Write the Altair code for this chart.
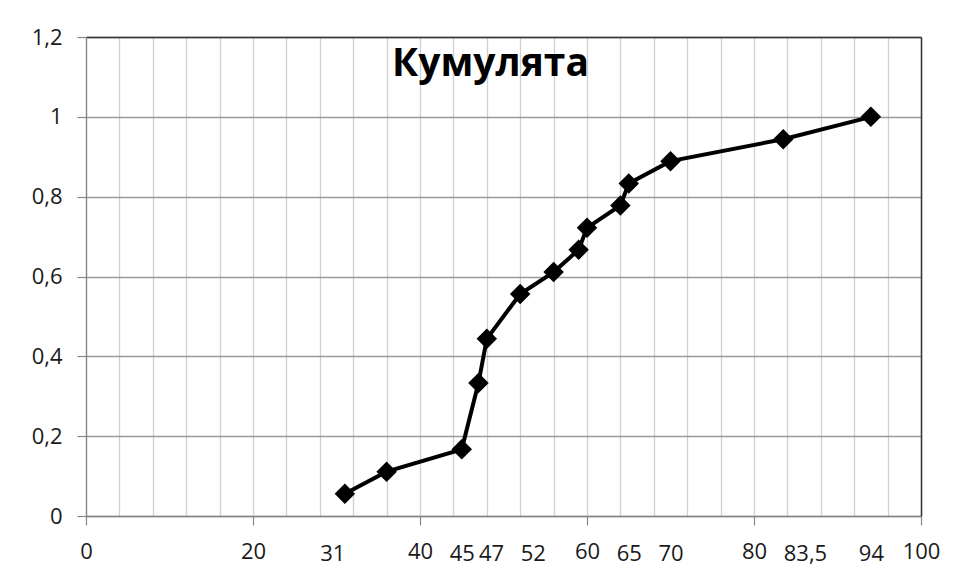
import altair as alt
import pandas as pd

# ---- data ----
values_x = [31, 36, 45, 47, 48, 52, 56, 59, 60, 64, 65, 70, 83.5, 94]
cum_freq = [0.056, 0.111, 0.167, 0.333, 0.444, 0.556, 0.611, 0.667,
            0.722, 0.778, 0.833, 0.889, 0.944, 1.0]
major_ticks = [0, 20, 40, 60, 80, 100]
extra_labels = [31, 45, 47, 52, 65, 70, 83.5, 94]
labels_left = [47, 52, 83.5]     # extra labels drawn to the right of their value
labels_right = [31]              # extra labels drawn to the left of their value
grid_step = 4
y_ticks = [0, 0.2, 0.4, 0.6, 0.8, 1.0, 1.2]
title_text = "Кумулята"

df = pd.DataFrame({"x": values_x, "y": cum_freq})

FONT = "Open Sans"
grid_vals = list(range(0, 101, grid_step))
x_axis_values = sorted(set(grid_vals) | set(major_ticks) | set(extra_labels))


def js(arr):
    return "[" + ",".join(str(v) for v in arr) + "]"


is_major = f"indexof({js(major_ticks)}, datum.value) >= 0"
x_label_expr = (f"indexof({js(major_ticks + extra_labels)}, datum.value) >= 0 ? "
                "replace(format(datum.value, '~g'), '.', ',') : ''")

x_axis = alt.Axis(
    values=x_axis_values,
    labelExpr=x_label_expr,
    labelOverlap=False, labelFlush=False, labelBound=False,
    labelFont=FONT, labelFontSize=22, labelColor="#1a1a1a",
    labelPadding={"condition": {"test": is_major, "value": 16}, "value": 18.5},
    labelAlign={"condition": [
        {"test": f"indexof({js(labels_left)}, datum.value) >= 0", "value": "left"},
        {"test": f"indexof({js(labels_right)}, datum.value) >= 0", "value": "right"},
    ], "value": "center"},
    tickSize=9, tickColor="#868686", tickWidth=1.2,
    tickOpacity={"condition": {"test": is_major, "value": 1}, "value": 0},
    grid=True, gridColor="#d0d0d0", gridWidth=1.3,
    gridOpacity={"condition": {"test": f"datum.value % {grid_step} === 0", "value": 1}, "value": 0},
    domainColor="#868686", domainWidth=1.3, title=None,
)
y_axis = alt.Axis(
    values=y_ticks,
    labelExpr="replace(format(datum.value, '.1~f'), '.', ',')",
    labelFont=FONT, labelFontSize=22, labelColor="#1a1a1a", labelPadding=15,
    tickSize=9, tickColor="#868686", tickWidth=1.2,
    grid=True, gridColor="#9a9a9a", gridWidth=1.3,
    domainColor="#868686", domainWidth=1.3, title=None,
)
top_axis = alt.Axis(orient="top", labels=False, ticks=False, grid=False,
                    domainColor="#333333", domainWidth=1.5, title=None)
right_axis = alt.Axis(orient="right", labels=False, ticks=False, grid=False,
                      domainColor="#333333", domainWidth=1.5, title=None)

xs = alt.Scale(domain=[0, 100], nice=False, zero=True)
ys = alt.Scale(domain=[0, 1.2], nice=False, zero=True)

line = alt.Chart(df).mark_line(color="black", strokeWidth=4).encode(
    x=alt.X("x:Q", scale=xs, axis=x_axis),
    y=alt.Y("y:Q", scale=ys, axis=y_axis),
)
points = alt.Chart(df).mark_point(
    shape="diamond", filled=True, size=420, color="black", opacity=1
).encode(
    x=alt.X("x:Q", scale=xs, axis=top_axis),
    y=alt.Y("y:Q", scale=ys, axis=right_axis),
)

chart = alt.layer(line, points).resolve_axis(
    x="independent", y="independent"
).properties(
    width=835, height=479,
    autosize=alt.AutoSizeParams(type="none"),
    padding={"left": 78, "top": 29, "right": 32, "bottom": 56},
    title=alt.Title(title_text, font=FONT, fontSize=39, fontWeight="bold",
                    color="black", anchor="middle", frame="group",
                    baseline="alphabetic", offset=0, dy=89, dx=-13),
).configure_view(stroke="transparent")

chart.save("out.html", embed_options={"renderer": "svg", "actions": False})
